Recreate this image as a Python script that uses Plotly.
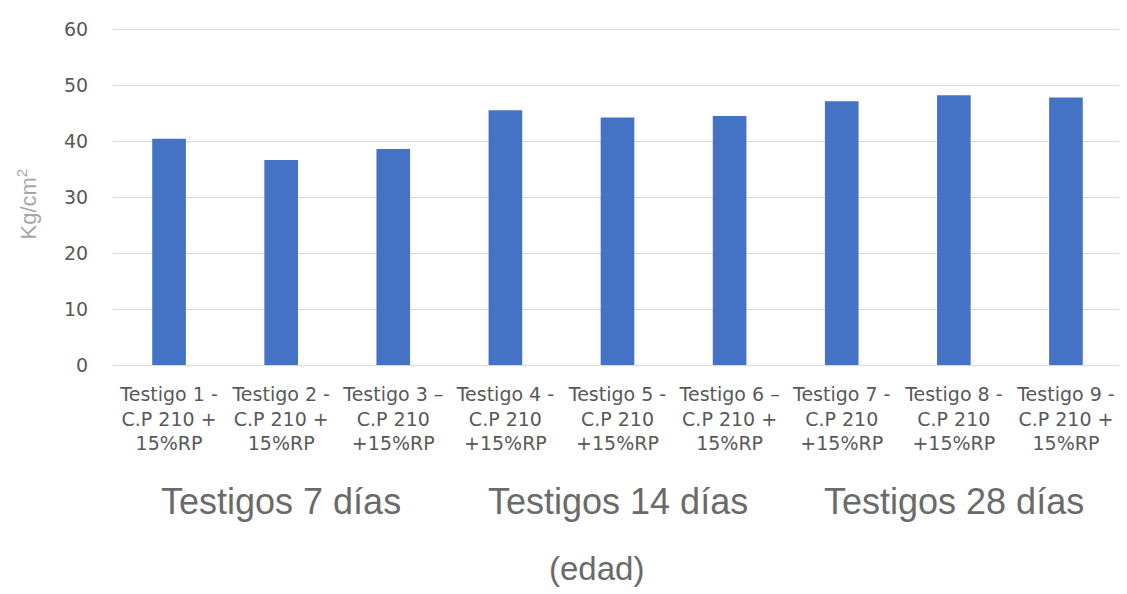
import plotly.graph_objects as go

categories = ["Testigo 1", "Testigo 2", "Testigo 3", "Testigo 4", "Testigo 5",
              "Testigo 6", "Testigo 7", "Testigo 8", "Testigo 9"]
values = [40.4, 36.6, 38.6, 45.5, 44.2, 44.5, 47.1, 48.2, 47.8]
tick_labels = [
    "Testigo 1 -<br>C.P 210 +<br>15%RP",
    "Testigo 2 -<br>C.P 210 +<br>15%RP",
    "Testigo 3 –<br>C.P 210<br>+15%RP",
    "Testigo 4 -<br>C.P 210<br>+15%RP",
    "Testigo 5 -<br>C.P 210<br>+15%RP",
    "Testigo 6 –<br>C.P 210 +<br>15%RP",
    "Testigo 7 -<br>C.P 210<br>+15%RP",
    "Testigo 8 -<br>C.P 210<br>+15%RP",
    "Testigo 9 -<br>C.P 210 +<br>15%RP",
]
group_labels = ["Testigos 7 días", "Testigos 14 días", "Testigos 28 días"]
group_centers = ["Testigo 2", "Testigo 5", "Testigo 8"]
y_ticks = [0, 10, 20, 30, 40, 50, 60]

fig = go.Figure(go.Bar(x=categories, y=values, marker_color="#4472C4",
                       marker_line_width=0))

fig.update_layout(
    width=1127, height=594,
    margin=dict(l=105, r=13, t=10, b=237),
    paper_bgcolor="white", plot_bgcolor="white",
    bargap=0.7, showlegend=False,
    font=dict(family="DejaVu Sans", color="#595959"),
)
fig.update_xaxes(
    type="category", tickvals=categories, ticktext=tick_labels,
    tickfont=dict(size=19, family="DejaVu Sans", color="#595959"),
    showgrid=False, showline=False, zeroline=False,
    ticks="outside", ticklen=12, tickcolor="rgba(0,0,0,0)",
    tickangle=0,
)
fig.update_yaxes(
    range=[0, 60.2], tickvals=y_ticks, ticklabeloverflow="allow",
    tickfont=dict(size=19, family="DejaVu Sans", color="#595959"),
    showgrid=True, gridcolor="#D9D9D9", gridwidth=1,
    zeroline=True, zerolinecolor="#D9D9D9", zerolinewidth=1,
    showline=False, ticks="outside", ticklen=20, tickcolor="rgba(0,0,0,0)",
)

for lab, c in zip(group_labels, group_centers):
    fig.add_annotation(x=c, xref="x", y=-0.405, yref="paper",
                       text=lab, showarrow=False, xanchor="center", yanchor="middle",
                       font=dict(family="Liberation Sans", size=36, color="#6A6A6A"))

fig.add_annotation(x=0.479, xref="paper", y=-0.603, yref="paper",
                   text="(edad)", showarrow=False, xanchor="center", yanchor="middle",
                   font=dict(family="Liberation Sans", size=33, color="#6A6A6A"))

fig.add_annotation(x=-0.085, xref="paper", y=0.477, yref="paper",
                   text="Kg/cm<sup>2</sup>", showarrow=False, textangle=-90,
                   xanchor="center", yanchor="middle",
                   font=dict(family="Liberation Sans", size=22, color="#A6A6A6"))

fig.write_html("out.html")
